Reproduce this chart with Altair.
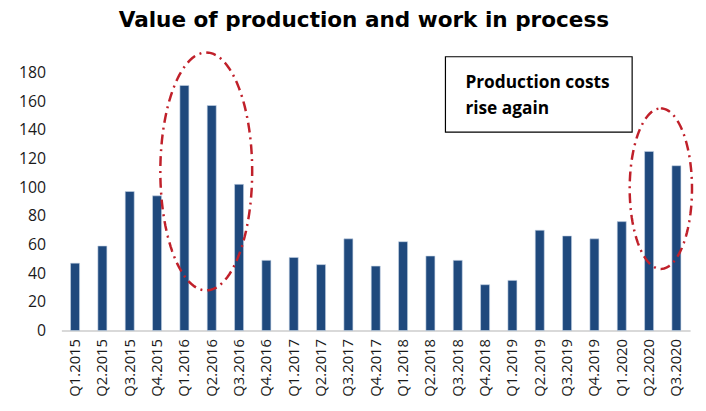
import altair as alt
import pandas as pd
import numpy as np

quarters = ["Q1.2015", "Q2.2015", "Q3.2015", "Q4.2015",
            "Q1.2016", "Q2.2016", "Q3.2016", "Q4.2016",
            "Q1.2017", "Q2.2017", "Q3.2017", "Q4.2017",
            "Q1.2018", "Q2.2018", "Q3.2018", "Q4.2018",
            "Q1.2019", "Q2.2019", "Q3.2019", "Q4.2019",
            "Q1.2020", "Q2.2020", "Q3.2020"]
values = [47, 59, 97, 94, 171, 157, 102, 49, 51, 46, 64, 45, 62, 52, 49,
          32, 35, 70, 66, 64, 76, 125, 115]
y_ticks = [0, 20, 40, 60, 80, 100, 120, 140, 160, 180]

# annotation positions in (bar index units, value units)
ellipse_centers_x = [5.3, 21.93]
ellipse_centers_y = [111, 99]
ellipse_rx = [1.68, 1.14]
ellipse_ry = [83, 56]

box_x = [14.05, 20.88]
box_y = [138.5, 191]
note_lines = ["Production costs", "rise again"]
note_x = 14.78
note_y = [169.5, 151]

bars_df = pd.DataFrame({"quarter": quarters, "value": values})

ell_rows = []
t = np.linspace(0, 2 * np.pi, 121)
for k in range(len(ellipse_centers_x)):
    for j, tt in enumerate(t):
        ell_rows.append({"e": k, "o": j,
                         "x": ellipse_centers_x[k] + ellipse_rx[k] * np.sin(tt),
                         "y": ellipse_centers_y[k] + ellipse_ry[k] * np.cos(tt)})
ell_df = pd.DataFrame(ell_rows)

box_df = pd.DataFrame({"x": [box_x[0]], "x2": [box_x[1]], "y": [box_y[0]], "y2": [box_y[1]]})
note_df = pd.DataFrame({"x": [note_x, note_x], "y": note_y, "t": note_lines})

yscale = alt.Scale(domain=[0, 180])
xq = alt.Scale(domain=[0, 23])
y_axis = alt.Axis(values=y_ticks, grid=False, domain=False, ticks=False,
                  labelFont="Open Sans", labelFontSize=16, labelOverlap=False,
                  labelColor="#1a1a1a", labelPadding=16, title=None)

bars = alt.Chart(bars_df).mark_bar(color="#1F497D", stroke="#C9D6E8", strokeWidth=0.6).encode(
    x=alt.X("quarter:N", sort=quarters, title=None,
            scale=alt.Scale(paddingInner=0.67, paddingOuter=0.335),
            axis=alt.Axis(labelAngle=-90, labelFont="Open Sans", labelFontSize=15,
                          labelColor="#1a1a1a", labelPadding=8, ticks=False,
                          domainColor="#D9D9D9", domainWidth=2)),
    y=alt.Y("value:Q", scale=yscale, title=None, axis=y_axis),
)

ellipses = alt.Chart(ell_df).mark_line(color="#C0202A", strokeWidth=2.5,
                                        strokeDash=[10, 5, 2, 5]).encode(
    x=alt.X("x:Q", scale=xq, axis=None),
    y=alt.Y("y:Q", scale=yscale, title=None, axis=y_axis),
    detail="e:N",
    order="o:Q",
)

box = alt.Chart(box_df).mark_rect(fill="white", stroke="black", strokeWidth=1.2).encode(
    x=alt.X("x:Q", scale=xq, axis=None), x2="x2",
    y=alt.Y("y:Q", scale=yscale, title=None, axis=y_axis), y2="y2",
)

note = alt.Chart(note_df).mark_text(align="left", baseline="alphabetic", font="Open Sans",
                                    fontSize=17.5, fontWeight="bold", color="black").encode(
    x=alt.X("x:Q", scale=xq, axis=None),
    y=alt.Y("y:Q", scale=yscale, title=None, axis=y_axis),
    text="t:N",
)

chart = alt.layer(bars, ellipses, box, note).resolve_scale(x="independent").properties(
    width=636, height=261,
    autosize=alt.AutoSizeParams(type="none"),
    padding={"left": 54, "top": 63, "right": 8, "bottom": 72},
    title=alt.TitleParams("Value of production and work in process", font="DejaVu Sans",
                          fontSize=21.8, fontWeight="bold", color="black",
                          anchor="middle", dx=-12, baseline="alphabetic", offset=-1.5),
).configure_view(stroke=None)

chart.save("out.html", embed_options={"renderer": "svg", "actions": False})
